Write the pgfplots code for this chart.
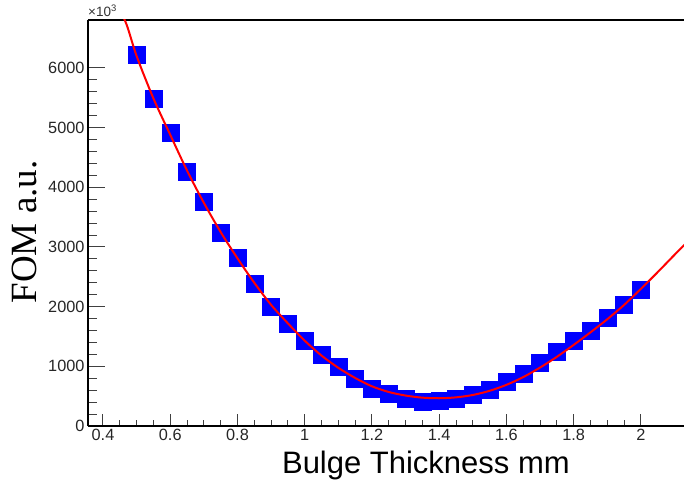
\documentclass[border=0pt]{standalone}
\usepackage{pgfplots}
\pgfplotsset{compat=1.18}
\usepackage{fontspec}
\setmainfont{Liberation Sans}
\newfontfamily\seriffont{Liberation Serif}

\begin{document}
\begin{tikzpicture}[x=1pt,y=1pt]
\begin{axis}[
  name=ax,
  at={(0,0)}, anchor=south west,
  width=596pt, height=406pt, scale only axis,
  xmin=0.3554, xmax=2.128, ymin=0, ymax=6804,
  axis x line=box, axis y line=left,
  y axis line style={-},
  axis line style={line width=1.4pt, black},
  xtick={0.4,0.6,...,2.0},
  xticklabels={0.4,0.6,0.8,1,1.2,1.4,1.6,1.8,2},
  ytick={0,1000,...,6000},
  minor x tick num=3, minor y tick num=4,
  tick align=inside,
  xtick pos=bottom, ytick pos=left,
  major tick length=17pt, minor tick length=9pt,
  xtick style={line width=1pt, black!75, /pgfplots/major tick length=12pt, /pgfplots/minor tick length=6pt},
  ytick style={line width=1pt, black!75},
  scaled y ticks=false,
  /pgf/number format/assume math mode=true,
  /pgf/number format/1000 sep={},
  ticklabel style={font=\fontsize{16.3}{17}\selectfont, text=black!85},
  every axis x label/.style={at={(rel axis cs:0.567,0)}, anchor=base, yshift=-47pt, font=\fontsize{31}{34}\selectfont},
  every axis y label/.style={at={(rel axis cs:0,0.478)}, xshift=-51pt, rotate=90, anchor=base, font=\seriffont\fontsize{37}{40}\selectfont},
  xlabel={Bulge Thickness mm},
  ylabel={FOM a.u.},
  clip=true,
  clip marker paths=true,
]
\addplot[only marks, mark=square*, mark size=8.5pt, color=blue, fill=blue] coordinates {
(0.50,6218) (0.55,5480) (0.60,4910) (0.65,4257) (0.70,3754) (0.75,3234)
(0.80,2815) (0.85,2392) (0.90,1997) (0.95,1710) (1.00,1424) (1.05,1190)
(1.10,994) (1.15,799) (1.20,620) (1.25,536) (1.30,452) (1.35,407)
(1.40,425) (1.45,464) (1.50,520) (1.55,603) (1.60,743) (1.65,883)
(1.70,1061) (1.75,1245) (1.80,1424) (1.85,1604) (1.90,1810) (1.95,2028)
(2.00,2279)
};
\addplot[red, line width=2pt, smooth] coordinates {
(0.44,7100) (0.47,6730) (0.50,6200) (0.55,5490) (0.60,4880) (0.65,4280)
(0.70,3740) (0.75,3250) (0.80,2810) (0.85,2400) (0.90,2030) (0.95,1720)
(1.00,1430) (1.05,1180) (1.10,975) (1.15,805) (1.20,665) (1.25,570)
(1.30,510) (1.35,475) (1.40,465) (1.45,480) (1.50,520) (1.55,590)
(1.60,690) (1.65,820) (1.70,980) (1.75,1160) (1.80,1360) (1.85,1570)
(1.90,1790) (1.95,2030) (2.00,2300) (2.05,2580) (2.10,2870) (2.13,3040)
};
\end{axis}
\node[anchor=base west, inner sep=0pt, text=black!80, font=\fontsize{13.5}{14}\selectfont] at ([yshift=3.5pt]ax.north west) {×10\textsuperscript{3}};
\pgfresetboundingbox
\useasboundingbox (-88,-58) rectangle (596,426);
\end{tikzpicture}
\end{document}
